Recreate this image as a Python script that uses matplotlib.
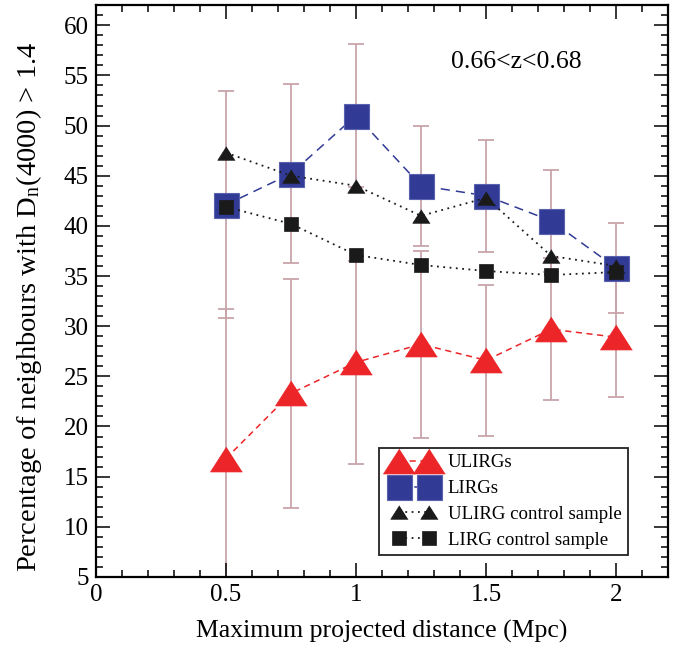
import matplotlib
matplotlib.use("Agg")
import matplotlib.pyplot as plt
from matplotlib.ticker import MultipleLocator
from matplotlib.legend_handler import HandlerLine2D

plt.rcParams['font.family'] = ['Liberation Serif', 'DejaVu Serif']
plt.rcParams['mathtext.fontset'] = 'stix'

distance = [0.5, 0.75, 1.0, 1.25, 1.5, 1.75, 2.0]

ulirg = [16.8, 23.3, 26.4, 28.2, 26.6, 29.7, 28.9]
ulirg_err = [14.9, 11.4, 10.1, 9.3, 7.5, 7.1, 6.0]

lirg = [42.1, 45.2, 51.0, 44.0, 43.0, 40.5, 35.8]
lirg_err = [11.3, 8.9, 7.1, 6.0, 5.6, 5.1, 4.5]

ulirg_ctrl = [47.3, 45.0, 44.0, 41.0, 42.8, 37.0, 36.0]
lirg_ctrl = [41.9, 40.2, 37.1, 36.1, 35.5, 35.1, 35.4]

rouge = '#ec2529'
bleu = '#313b96'
noir = '#1a1a1a'
barre = '#c8a4aa'

# triangle un peu aplati comme dans grace
tri = [(0, 0.78), (-1, -0.78), (1, -0.78)]

fig = plt.figure(figsize=(6.94, 6.49), dpi=100)
ax = fig.add_axes([0.138, 0.111, 0.825, 0.881])

ax.errorbar(distance, ulirg, yerr=ulirg_err, fmt='none', ecolor=barre,
            elinewidth=1.3, capsize=5.5, capthick=1.3, zorder=1)
ax.errorbar(distance, lirg, yerr=lirg_err, fmt='none', ecolor=barre,
            elinewidth=1.3, capsize=5.5, capthick=1.3, zorder=1)

l1, = ax.plot(distance, ulirg, color=rouge, ls=(0, (4, 3)), lw=1.1, marker=tri,
              ms=23, mfc=rouge, mec=rouge, mew=0.5, label='ULIRGs', zorder=3)
l2, = ax.plot(distance, lirg, color=bleu, ls=(0, (6, 4)), lw=1.1, marker='s',
              ms=18, mfc=bleu, mec='#5a62ad', mew=0.8, label='LIRGs', zorder=4)
l3, = ax.plot(distance, ulirg_ctrl, color=noir, ls=(0, (1, 2.5)), lw=1.3, marker=tri,
              ms=12.5, mfc=noir, mec=noir, mew=0.5, label='ULIRG control sample', zorder=5)
l4, = ax.plot(distance, lirg_ctrl, color=noir, ls=(0, (1, 2.5)), lw=1.3, marker='s',
              ms=9.5, mfc=noir, mec=noir, mew=0.5, label='LIRG control sample', zorder=5)

ax.set_xlim(0, 2.2)
ax.set_ylim(5, 62)
ax.xaxis.set_major_locator(MultipleLocator(0.5))
ax.xaxis.set_minor_locator(MultipleLocator(0.1))
ax.yaxis.set_major_locator(MultipleLocator(5))
ax.yaxis.set_minor_locator(MultipleLocator(1))
ax.set_xticks([0, 0.5, 1, 1.5, 2])
ax.set_xticklabels(['0', '0.5', '1', '1.5', '2'])

ax.tick_params(which='both', direction='in', top=True, right=True, labelsize=18, width=1.1)
ax.tick_params(which='major', length=10, pad=5)
ax.tick_params(which='minor', length=5)
for s in ax.spines.values():
    s.set_linewidth(1.6)

ax.set_xlabel('Maximum projected distance (Mpc)', fontsize=18.5, labelpad=10)
ax.set_ylabel(r'Percentage of neighbours with D$_\mathregular{n}$(4000) > 1.4', fontsize=20.5)
ax.yaxis.set_label_coords(-0.09, 0.473)

ax.text(1.616, 56.3, '0.66<z<0.68', fontsize=18.5, ha='center', va='center')

hm = {h: HandlerLine2D(marker_pad=0.72, numpoints=2) for h in (l1, l2, l3, l4)}
leg = ax.legend(loc='lower right', bbox_to_anchor=(0.930, 0.038), handler_map=hm,
                handlelength=3.0, handletextpad=0.3, labelspacing=0.45,
                fontsize=13.6, fancybox=False, framealpha=1, edgecolor='#222222',
                borderpad=0.35, borderaxespad=0)
leg.get_frame().set_linewidth(1.3)

fig.savefig('out.png', dpi=100)
